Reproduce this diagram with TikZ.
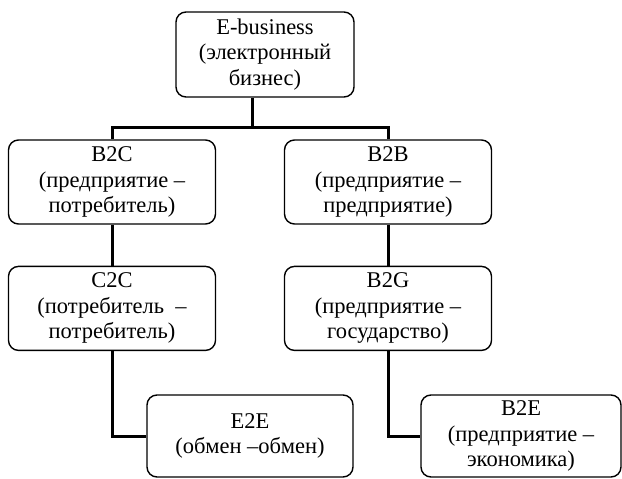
\documentclass[tikz,border=0pt]{standalone}
\usepackage{fontspec}
\setmainfont{Liberation Serif}
\usepackage{tikz}
\usetikzlibrary{positioning}
\tikzset{
	box/.style={draw, line width=1.4pt, rounded corners=10pt, align=center,
		minimum width=207pt, minimum height=84pt, inner sep=2pt,
		font={\fontsize{22.5}{25.5}\selectfont}},
	link/.style={draw, line width=3pt}
}

\begin{document}
\begin{tikzpicture}
		\useasboundingbox (0,0) rectangle (622pt,-479pt);
		% Define nodes
		\node[box, minimum width=178pt, minimum height=85pt] (ebiz) at (265pt,-54.5pt) {E-business\\(электронный\\бизнес)};
		\node[box] (b2c) at (112pt,-182pt) {B2C\\(предприятие –\\потребитель)};
		\node[box, below=41pt of b2c] (c2c) {C2C\\(потребитель \ –\\потребитель)};
		\node[box] (b2b) at (388pt,-182pt) {B2B\\(предприятие –\\предприятие)};
		\node[box, below=41pt of b2b] (b2g) {B2G\\(предприятие –\\государство)};

		\node[box, minimum width=206pt, minimum height=82pt] (e2e) at (250pt,-436pt) {E2E\\(обмен –обмен)};
		\node[box, minimum width=200pt, minimum height=82pt] (b2e) at (521pt,-436pt) {B2E\\(предприятие –\\экономика)};

		% Connect the nodes
		\coordinate (bar) at (252pt,-127pt);
		\draw[link] (ebiz.south -| bar) -- (bar);
		\draw[link] (b2c.north) |- (bar) -| (b2b.north);
		\draw[link] (b2c) -- (c2c);
		\draw[link] (b2b) -- (b2g);
		\draw[link] (c2c.south) |- (e2e.west);
		\draw[link] (b2g.south) |- (b2e.west);
	\end{tikzpicture}
\end{document}
